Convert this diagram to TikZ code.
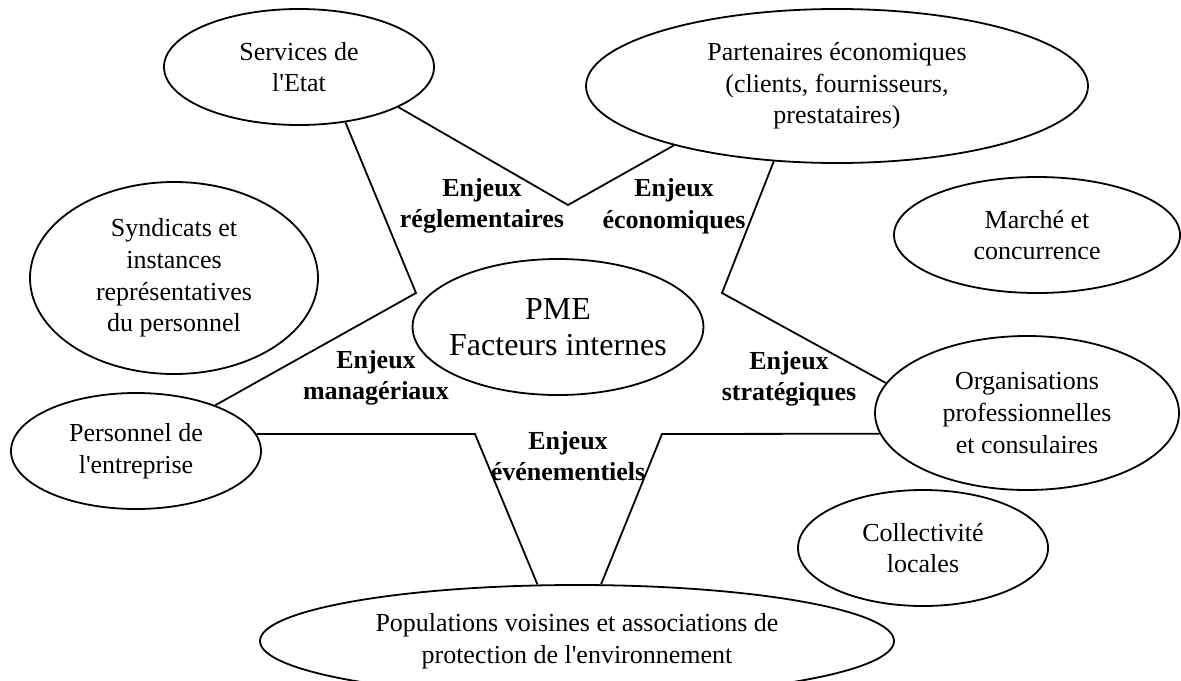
\documentclass[tikz,border=0pt]{standalone}
\usepackage{fontspec}
\setmainfont{Liberation Serif}
\usetikzlibrary{shapes.geometric}

\begin{document}
\begin{tikzpicture}[x=0.5pt, y=-0.5pt,
    acteur/.style={ellipse, draw, line width=0.9pt, inner sep=0pt, align=center,
                   font=\fontsize{13}{15.8}\selectfont},
    enjeu/.style={align=center, inner sep=0pt, font=\fontsize{13}{15.8}\selectfont\bfseries},
    lien/.style={line width=0.9pt}]
\useasboundingbox (0,0) rectangle (1181,680);
\clip (0,0) rectangle (1181,680);

% acteurs autour de la PME
\node[acteur, minimum width=135pt, minimum height=58pt] (etat) at (299,67) {Services de\\l\textquotesingle Etat};
\node[acteur, minimum width=251pt, minimum height=77pt] (partenaires) at (837,86) {Partenaires économiques\\(clients, fournisseurs,\\prestataires)};
\node[acteur, minimum width=143pt, minimum height=58pt] (marche) at (1037,235) {Marché et\\concurrence};
\node[acteur, minimum width=144pt, minimum height=96pt] (syndicats) at (174,278) {Syndicats et\\instances\\représentatives\\du personnel};
\node[acteur, minimum width=145pt, minimum height=68pt, inner xsep=-3pt,
      font=\fontsize{16}{18.3}\selectfont] (pme) at (558,327) {PME\\Facteurs internes};
\node[acteur, minimum width=125pt, minimum height=58pt] (personnel) at (136,451) {Personnel de\\l\textquotesingle entreprise};
\node[acteur, minimum width=152pt, minimum height=77pt] (organisations) at (1027,413) {Organisations\\professionnelles\\et consulaires};
\node[acteur, minimum width=125pt, minimum height=58pt] (collectivite) at (923,548) {Collectivité\\locales};
\node[acteur, minimum width=317pt, minimum height=56pt] (populations) at (577,641) {Populations voisines et associations de\\protection de l\textquotesingle environnement};

% points de coude
\coordinate (vReg) at (568,205);
\coordinate (kEtat) at (416,293);
\coordinate (kPart) at (722,293);
\coordinate (kPers) at (475,434);
\coordinate (kOrg) at (662,434);

\draw[lien] (etat.-22.7) -- (vReg) -- (partenaires.200.3);
\draw[lien] (etat.-50.6) -- (kEtat) -- (personnel.30.2);
\draw[lien] (partenaires.230.8) -- (kPart) -- (organisations.168.8);
\draw[lien] (personnel.8) -- (kPers) -- (populations.125.5);
\draw[lien] (organisations.188.2) -- (kOrg) -- (populations.67.7);

% enjeux
\node[enjeu] (reglementaires) at (482,206) {Enjeux\\réglementaires};
\node[enjeu] (economiques) at (674,206) {Enjeux\\économiques};
\node[enjeu] (manageriaux) at (376,378) {Enjeux\\managériaux};
\node[enjeu] (strategiques) at (789,379) {Enjeux\\stratégiques};
\node[enjeu] (evenementiels) at (568,456) {Enjeux\\événementiels};
\end{tikzpicture}
\end{document}
